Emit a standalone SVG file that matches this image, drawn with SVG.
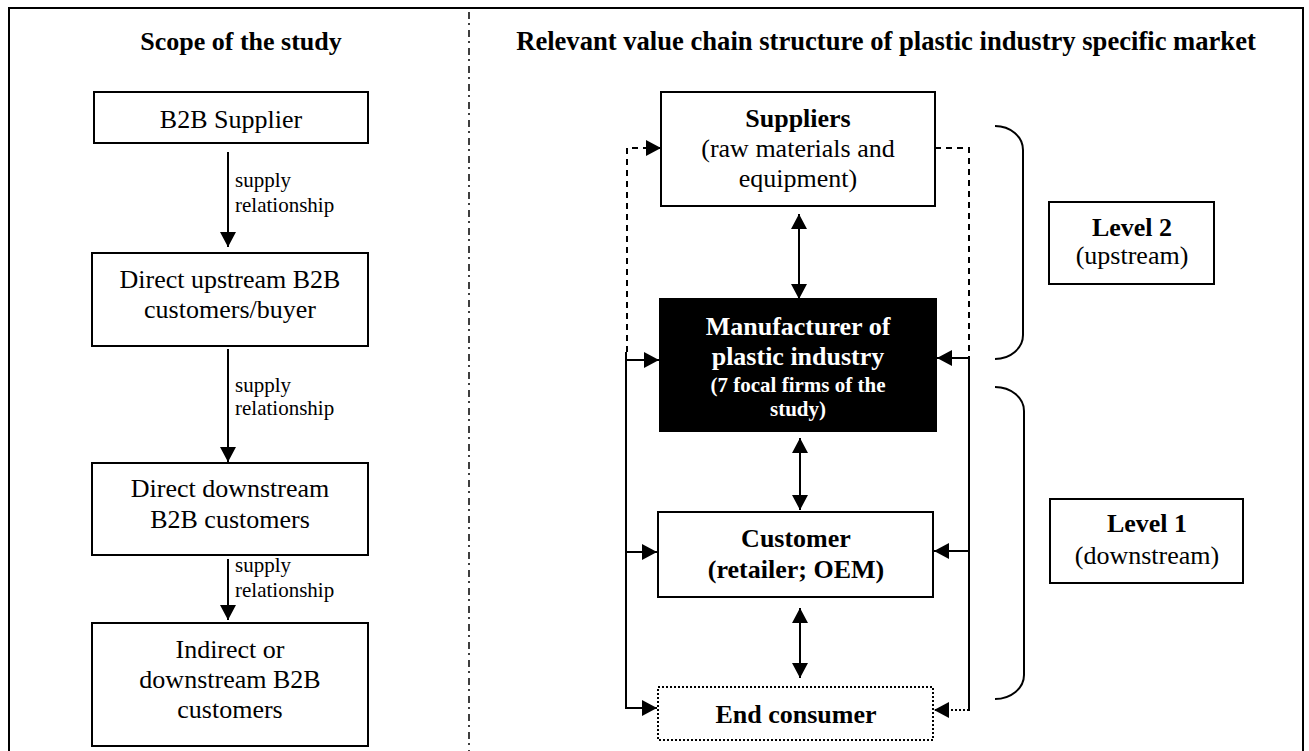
<svg xmlns="http://www.w3.org/2000/svg" width="1309" height="751" viewBox="0 0 1309 751">
<defs>
<style>
text{font-family:"Liberation Serif","Times New Roman",serif;fill:#000;text-anchor:middle}
.t{font-size:26px}
.b{font-weight:bold}
.s{font-size:21px}
.lab{font-size:21px;text-anchor:start}
.w{fill:#fff}
.box{fill:#fff;stroke:#000;stroke-width:2}
.ln{fill:none;stroke:#000;stroke-width:2}
.dash{fill:none;stroke:#000;stroke-width:2;stroke-dasharray:6,5}
.dot{fill:none;stroke:#000;stroke-width:2;stroke-dasharray:2,2}
</style>
<marker id="ah" markerUnits="userSpaceOnUse" markerWidth="16" markerHeight="16" viewBox="0 0 15 16" refX="15" refY="8" orient="auto-start-reverse">
<path d="M0,0 L15,8 L0,16 z" fill="#000"/>
</marker>
</defs>
<rect x="9" y="8" width="1294" height="800" fill="#fff" stroke="#000" stroke-width="2"/>
<line x1="469" y1="12" x2="469" y2="751" stroke="#000" stroke-width="1.5" stroke-dasharray="7,4,2,5"/>
<text class="t b" x="241" y="50">Scope of the study</text>
<text class="b" style="font-size:26.6px" x="886" y="50">Relevant value chain structure of plastic industry specific market</text>

<g id="b2b-supplier"><rect class="box" x="94" y="92" width="274" height="51"/><text class="t" x="231" y="128">B2B Supplier</text></g>
<g id="direct-upstream"><rect class="box" x="92" y="253" width="276" height="93"/><text class="t" x="230" y="288">Direct upstream B2B</text><text class="t" x="230" y="318">customers/buyer</text></g>
<g id="direct-downstream"><rect class="box" x="92" y="463" width="276" height="92"/><text class="t" x="230" y="497">Direct downstream</text><text class="t" x="230" y="528">B2B customers</text></g>
<g id="indirect"><rect class="box" x="92" y="623" width="276" height="123"/><text class="t" x="230" y="658">Indirect or</text><text class="t" x="230" y="688">downstream B2B</text><text class="t" x="230" y="718">customers</text></g>

<g id="suppliers"><rect class="box" x="661" y="92" width="274" height="114"/><text class="t b" x="798" y="127">Suppliers</text><text class="t" x="798" y="157">(raw materials and</text><text class="t" x="798" y="187">equipment)</text></g>
<g id="manufacturer"><rect x="660" y="299" width="276" height="132" fill="#000" stroke="#000" stroke-width="2"/><text class="t b w" x="798" y="335">Manufacturer of</text><text class="t b w" x="798" y="365">plastic industry</text><text class="s b w" x="798" y="392">(7 focal firms of the</text><text class="s b w" x="798" y="416">study)</text></g>
<g id="customer"><rect class="box" x="658" y="512" width="275" height="85"/><text class="t b" x="796" y="547">Customer</text><text class="t b" x="796" y="578">(retailer; OEM)</text></g>
<g id="end-consumer"><rect x="658" y="687" width="275" height="53" fill="#fff" stroke="#000" stroke-width="2" stroke-dasharray="2,2"/><text class="t b" x="796" y="723">End consumer</text></g>
<g id="level2"><rect class="box" x="1049" y="202" width="165" height="82"/><text class="t b" x="1132" y="236">Level 2</text><text class="t" x="1132" y="264">(upstream)</text></g>
<g id="level1"><rect class="box" x="1050" y="499" width="193" height="84"/><text class="t b" x="1147" y="532">Level 1</text><text class="t" x="1147" y="564">(downstream)</text></g>

<g id="connectors">
<line class="ln" x1="228" y1="152" x2="228" y2="247" marker-end="url(#ah)"/>
<line class="ln" x1="228" y1="349" x2="228" y2="462" marker-end="url(#ah)"/>
<line class="ln" x1="228" y1="559" x2="228" y2="620" marker-end="url(#ah)"/>
<text class="lab" x="235" y="187">supply</text><text class="lab" x="235" y="212">relationship</text>
<text class="lab" x="235" y="392">supply</text><text class="lab" x="235" y="415">relationship</text>
<text class="lab" x="235" y="572">supply</text><text class="lab" x="235" y="597">relationship</text>

<line class="ln" x1="799" y1="214" x2="799" y2="299" marker-start="url(#ah)" marker-end="url(#ah)"/>
<line class="ln" x1="800" y1="438" x2="800" y2="510" marker-start="url(#ah)" marker-end="url(#ah)"/>
<line class="ln" x1="800" y1="608" x2="800" y2="678" marker-start="url(#ah)" marker-end="url(#ah)"/>

<path class="dash" d="M627,352 V148 H661" marker-end="url(#ah)"/>
<path class="dash" d="M935,148 H969 V356"/>
<path class="ln" d="M626,352 V709"/>
<line class="ln" x1="626" y1="360" x2="659" y2="360" marker-end="url(#ah)"/>
<line class="ln" x1="626" y1="552" x2="657" y2="552" marker-end="url(#ah)"/>
<line class="ln" x1="626" y1="708" x2="657" y2="708" marker-end="url(#ah)"/>
<path class="ln" d="M969,356 V711"/>
<line class="ln" x1="969" y1="358" x2="937" y2="358" marker-end="url(#ah)"/>
<line class="ln" x1="969" y1="551" x2="934" y2="551" marker-end="url(#ah)"/>
<line class="dot" x1="969" y1="710" x2="934" y2="710" marker-end="url(#ah)"/>

<path class="ln" d="M995,126 A28,24 0 0 1 1023,150 V335 A28,24 0 0 1 995,359"/>
<path class="ln" d="M995,387 A29,24 0 0 1 1024,411 V675 A29,24 0 0 1 995,699"/>
</g>
</svg>
